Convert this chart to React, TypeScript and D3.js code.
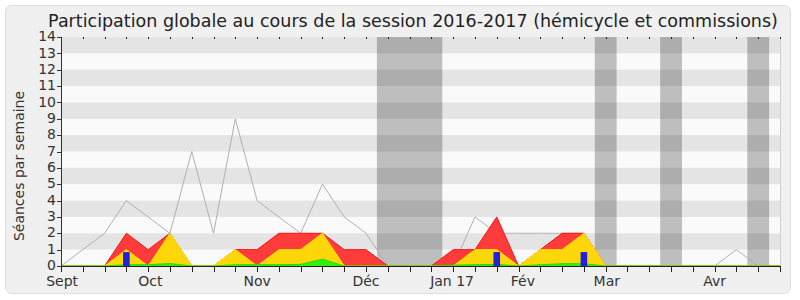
import React from "react";
import * as d3 from "d3";

// ---- data (one point per week, index 0 = first week of Sept 2016) ----
const weeks: number[] = d3.range(34);
const seancesTotal: number[] = [0, 1, 2, 4, 3, 2, 7, 2, 9, 4, 3, 2, 5, 3, 2, 0, 0, 0, 0, 3, 2, 2, 2, 2, 2, 0, 0, 0, 0, 0, 0, 1, 0, 0];
const presences: number[] = [0, 0, 0, 2, 1, 2, 0, 0, 1, 1, 2, 2, 2, 1, 1, 0, 0, 0, 1, 1, 3, 0, 1, 2, 2, 0, 0, 0, 0, 0, 0, 0, 0, 0];
const participations: number[] = [0, 0, 0, 1, 0, 2, 0, 0, 1, 0, 1, 1, 2, 0, 0, 0, 0, 0, 0, 1, 1, 0, 1, 1, 2, 0, 0, 0, 0, 0, 0, 0, 0, 0];
const mots: number[] = [0, 0, 0, 0.08, 0.08, 0.15, 0, 0, 0.08, 0.08, 0.08, 0.1, 0.42, 0, 0, 0, 0, 0, 0.05, 0.08, 0.1, 0, 0.08, 0.14, 0.14, 0, 0, 0, 0, 0, 0, 0, 0, 0];
const questions: number[] = [0, 0, 0, 0.85, 0, 0, 0, 0, 0, 0, 0, 0, 0, 0, 0, 0, 0, 0, 0, 0, 0.85, 0, 0, 0, 0.85, 0, 0, 0, 0, 0, 0, 0, 0, 0];
const vacationWeeks: number[] = [15, 16, 17, 25, 28, 32];
const monthLabels: string[] = ["Sept", "Oct", "Nov", "Déc", "Jan 17", "Fév", "Mar", "Avr"];
const monthPositions: number[] = [0.05, 4.1, 9.0, 14.0, 17.95, 21.2, 25.05, 30.0];
const yTicks: number[] = d3.range(0, 15);

const TITLE = "Participation globale au cours de la session 2016-2017 (hémicycle et commissions)";
const Y_LABEL = "Séances par semaine";

const W = 800;
const H = 300;
const left = 61;
const right = 780;
const top = 37;
const bottom = 266;
const FONT = "'DejaVu Sans', Verdana, sans-serif";

export default function App() {
  const x = d3.scaleLinear().domain([0, 33]).range([left, right]);
  const y = d3.scaleLinear().domain([0, 14]).range([bottom, top]);

  const areaOf = (vals: number[]) =>
    d3.area<number>().x((i) => x(i)).y0(y(0)).y1((i) => y(vals[i]))(weeks) || "";
  const lineOf = (vals: number[]) =>
    d3.line<number>().x((i) => x(i)).y((i) => y(vals[i]))(weeks) || "";

  // group consecutive vacation weeks into bands
  const bands: [number, number][] = [];
  vacationWeeks.forEach((w) => {
    const last = bands[bands.length - 1];
    if (last && last[1] === w - 1) last[1] = w;
    else bands.push([w, w]);
  });

  const stripes = yTicks.filter((v) => v < 14 && v % 2 === 1);

  return (
    <svg width={W} height={H} style={{ position: "absolute", left: 0, top: 0 }} fontFamily={FONT}>
      <rect x={5.5} y={5.5} width={785} height={288} rx={6} fill="#f0f0f0" stroke="#dedede" />
      <rect x={left} y={top} width={right - left} height={bottom - top} fill="#fafafa" />
      {bands.map(([a, b]) => (
        <rect key={"v" + a} x={x(a - 0.5)} y={top} width={x(b + 0.5) - x(a - 0.5)} height={bottom - top} fill="#bebebe" />
      ))}
      {stripes.map((v) => (
        <rect key={"s" + v} x={left} y={y(v + 1)} width={right - left} height={y(v) - y(v + 1)} fill="rgba(0,0,0,0.085)" />
      ))}
      <line x1={right + 0.5} x2={right + 0.5} y1={top} y2={bottom} stroke="#cfcfcf" />

      <path d={lineOf(seancesTotal)} fill="none" stroke="#b0b0b0" strokeWidth={1} />

      <path d={areaOf(presences)} fill="#ff3b3b" />
      <path d={lineOf(presences)} fill="none" stroke="#ff1010" strokeWidth={1} />
      <path d={areaOf(participations)} fill="#ffd60a" />
      <path d={lineOf(participations)} fill="none" stroke="#ffe800" strokeWidth={1} />
      <path d={areaOf(mots)} fill="#33ee11" />
      <path d={lineOf(mots)} fill="none" stroke="#22dd00" strokeWidth={1} />

      {weeks.filter((i) => questions[i] > 0).map((i) => (
        <rect key={"q" + i} x={x(i) - 3.3} y={y(questions[i])} width={6.6} height={y(0) - y(questions[i])} fill="#2020dd" />
      ))}

      {/* axes */}
      <line x1={left + 0.5} x2={left + 0.5} y1={top} y2={bottom} stroke="#333" />
      <line x1={left} x2={right + 1} y1={bottom + 0.5} y2={bottom + 0.5} stroke="#222" />
      {yTicks.map((v) => (
        <g key={"yt" + v}>
          <line x1={left - 4} x2={left} y1={Math.round(y(v)) + 0.5} y2={Math.round(y(v)) + 0.5} stroke="#333" />
          <text x={left - 5} y={y(v)} dy="0.3em" textAnchor="end" fontSize={14} fill="#333">
            {v}
          </text>
        </g>
      ))}
      {weeks.map((i) => (
        <g key={"xt" + i}>
          <line x1={Math.round(x(i)) + 0.5} x2={Math.round(x(i)) + 0.5} y1={bottom} y2={bottom + 6} stroke="#222" />
          <line x1={Math.round(x(i)) + 0.5} x2={Math.round(x(i)) + 0.5} y1={top} y2={top + 2} stroke="#222" />
        </g>
      ))}
      {monthLabels.map((m, k) => (
        <text key={"m" + k} x={x(monthPositions[k])} y={286} textAnchor="middle" fontSize={14} fill="#333">
          {m}
        </text>
      ))}
      <text transform={`translate(24,166) rotate(-90)`} textAnchor="middle" fontSize={14} fill="#333">
        {Y_LABEL}
      </text>
      <text x={413} y={27} textAnchor="middle" fontSize={17.5} fill="#222">
        {TITLE}
      </text>
    </svg>
  );
}
